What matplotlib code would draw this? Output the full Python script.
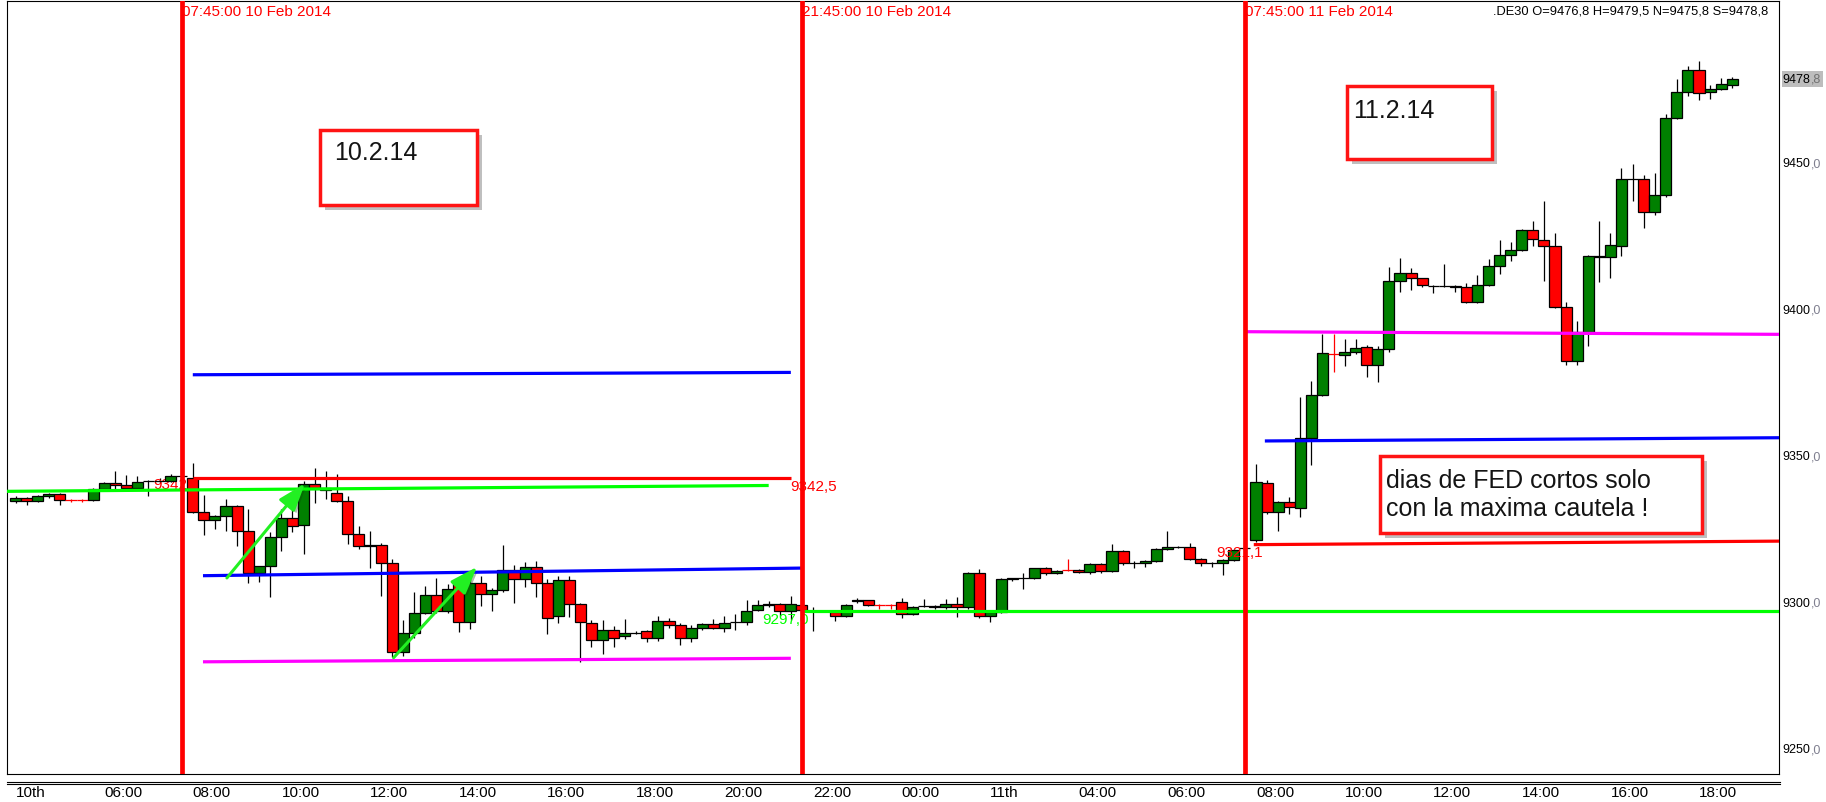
import numpy as np
import matplotlib
matplotlib.use('Agg')
import matplotlib.pyplot as plt
import matplotlib.patches as mpatches
import matplotlib.patheffects as pe
from matplotlib.lines import Line2D

W, H = 1826, 803
NARROW = ['Liberation Sans Narrow', 'Liberation Sans', 'DejaVu Sans']
ARIAL = ['Liberation Sans', 'DejaVu Sans']

# 15 min bars .DE30, time = hours from 00:00 10 Feb 2014
bar_t = [4.0, 4.25, 4.5, 4.75, 5.0, 5.25, 5.5, 5.75, 6.0, 6.25, 6.5, 6.75, 7.0, 7.25, 7.5, 7.75,
         8.0, 8.25, 8.5, 8.75, 9.0, 9.25, 9.5, 9.75, 10.0, 10.25, 10.5, 10.75, 11.0, 11.25, 11.5, 11.75,
         12.0, 12.25, 12.5, 12.75, 13.0, 13.25, 13.5, 13.75, 14.0, 14.25, 14.5, 14.75, 15.0, 15.25, 15.5, 15.75,
         16.0, 16.25, 16.5, 16.75, 17.0, 17.25, 17.5, 17.75, 18.0, 18.25, 18.5, 18.75, 19.0, 19.25, 19.5, 19.75,
         20.0, 20.25, 20.5, 20.75, 21.0, 21.25, 21.5, 21.75, 22.0, 22.5, 22.75, 23.0, 23.25, 23.5, 23.75,
         24.0, 24.25, 24.5, 24.75, 25.0, 25.25, 25.5, 25.75, 26.0, 26.25, 26.5, 26.75, 27.0, 27.25, 27.5, 27.75,
         28.0, 28.25, 28.5, 28.75, 29.0, 29.25, 29.5, 29.75, 30.0, 30.25, 30.5, 30.75, 31.0, 31.25, 31.5, 31.75,
         32.0, 32.25, 32.5, 32.75, 33.0, 33.25, 33.5, 33.75, 34.0, 34.25, 34.5, 34.75, 35.0, 35.25, 35.5, 35.75,
         36.0, 36.25, 36.5, 36.75, 37.0, 37.25, 37.5, 37.75, 38.0, 38.25, 38.5, 38.75, 39.0, 39.25, 39.5, 39.75,
         40.0, 40.25, 40.5, 40.75, 41.0, 41.25, 41.5, 41.75, 42.0, 42.25, 42.5, 42.75]
bar_o = [9334.7, 9335.8, 9334.7, 9336.4, 9337.1, 9335.0, 9335.0, 9335.0, 9338.8, 9341.0, 9340.1, 9339.3, 9341.6, 9341.6, 9341.4, 9343.3,
         9342.4, 9330.8, 9328.2, 9329.7, 9332.9, 9324.3, 9310.1, 9312.4, 9322.3, 9328.8, 9326.6, 9340.5, 9339.1, 9337.6, 9334.8, 9323.6,
         9319.2, 9319.7, 9313.4, 9283.0, 9289.8, 9296.4, 9302.7, 9297.0, 9306.6, 9293.3, 9306.6, 9302.9, 9304.4, 9311.2, 9308.0, 9312.3,
         9306.7, 9295.3, 9307.6, 9299.5, 9293.0, 9287.2, 9290.6, 9288.5, 9289.8, 9290.2, 9287.8, 9293.6, 9292.2, 9287.8, 9291.5, 9292.7,
         9291.5, 9293.5, 9293.5, 9297.6, 9299.2, 9299.4, 9297.0, 9299.2, 9297.0, 9296.9, 9295.3, 9300.4, 9300.8, 9299.1, 9299.1,
         9300.1, 9296.1, 9298.9, 9298.9, 9298.4, 9299.7, 9298.4, 9310.0, 9295.3, 9296.9, 9308.0, 9308.5, 9308.3, 9311.7, 9310.0, 9311.1,
         9311.1, 9310.3, 9313.2, 9310.9, 9317.6, 9313.7, 9313.7, 9314.1, 9318.2, 9319.1, 9319.1, 9314.9, 9313.5, 9313.5, 9314.5, 9318.5,
         9321.4, 9340.7, 9331.1, 9334.4, 9332.2, 9356.1, 9371.0, 9384.9, 9384.6, 9385.4, 9387.4, 9381.1, 9386.6, 9409.9, 9412.4, 9410.7,
         9408.2, 9408.2, 9408.2, 9407.6, 9402.5, 9408.5, 9415.0, 9418.8, 9420.3, 9427.3, 9423.9, 9421.8, 9400.8, 9382.6, 9392.3, 9418.4,
         9417.9, 9421.6, 9444.6, 9444.8, 9433.2, 9439.1, 9465.3, 9474.5, 9481.7, 9474.2, 9475.3, 9476.8]
bar_h = [9336.5, 9336.2, 9336.8, 9337.3, 9337.5, 9335.4, 9335.4, 9339.2, 9341.2, 9344.8, 9343.5, 9343.3, 9342.0, 9342.5, 9343.8, 9343.6,
         9347.6, 9336.8, 9330.0, 9335.4, 9333.3, 9331.9, 9312.6, 9324.0, 9331.9, 9334.2, 9341.6, 9345.9, 9344.8, 9343.9, 9336.5, 9326.0,
         9324.5, 9320.2, 9314.9, 9294.0, 9303.5, 9305.8, 9308.3, 9306.5, 9308.0, 9309.5, 9309.0, 9305.0, 9319.6, 9313.0, 9313.8, 9314.3,
         9308.0, 9309.2, 9309.0, 9300.0, 9294.0, 9294.0, 9292.0, 9294.4, 9290.3, 9290.7, 9295.5, 9294.8, 9293.2, 9292.5, 9293.0, 9294.4,
         9295.5, 9296.1, 9300.9, 9300.9, 9300.6, 9299.8, 9302.1, 9299.6, 9298.4, 9297.3, 9299.6, 9301.6, 9301.0, 9299.6, 9299.6,
         9301.6, 9298.8, 9301.2, 9299.2, 9301.2, 9301.8, 9310.3, 9311.5, 9297.1, 9308.3, 9308.5, 9310.0, 9311.9, 9312.0, 9311.2, 9314.9,
         9311.4, 9313.5, 9313.5, 9320.0, 9318.0, 9314.2, 9314.5, 9318.6, 9324.4, 9319.5, 9320.2, 9315.2, 9313.9, 9314.8, 9318.2, 9318.8,
         9347.3, 9341.8, 9334.8, 9335.9, 9370.1, 9375.8, 9391.7, 9391.7, 9390.0, 9390.0, 9387.8, 9387.7, 9414.5, 9417.5, 9414.4, 9411.0,
         9408.5, 9415.6, 9408.5, 9409.1, 9411.8, 9417.3, 9423.9, 9423.0, 9427.6, 9430.4, 9437.2, 9426.2, 9402.5, 9396.2, 9418.7, 9430.4,
         9426.2, 9448.4, 9449.7, 9446.0, 9446.7, 9466.8, 9478.7, 9483.3, 9485.0, 9476.6, 9479.0, 9479.5]
bar_l = [9334.0, 9333.4, 9334.2, 9335.8, 9333.4, 9334.3, 9334.3, 9334.8, 9338.5, 9338.8, 9339.0, 9339.0, 9336.5, 9340.8, 9341.2, 9343.0,
         9330.5, 9323.1, 9325.1, 9324.5, 9319.4, 9306.6, 9307.1, 9301.8, 9317.7, 9324.0, 9316.6, 9333.9, 9335.4, 9334.5, 9320.0, 9318.3,
         9311.7, 9302.4, 9281.3, 9281.9, 9288.0, 9296.0, 9296.5, 9296.5, 9290.0, 9291.0, 9299.0, 9297.0, 9303.5, 9300.0, 9305.5, 9302.0,
         9289.3, 9293.0, 9295.0, 9279.6, 9284.7, 9282.4, 9285.0, 9287.5, 9289.3, 9286.5, 9287.0, 9291.5, 9285.5, 9286.5, 9290.8, 9291.0,
         9290.0, 9290.7, 9292.5, 9297.0, 9298.5, 9295.5, 9294.0, 9296.5, 9290.4, 9293.8, 9295.0, 9300.0, 9299.0, 9297.8, 9297.8,
         9294.9, 9295.8, 9298.5, 9297.8, 9298.0, 9295.0, 9298.0, 9294.8, 9293.5, 9296.5, 9307.5, 9304.6, 9308.0, 9309.6, 9309.7, 9310.8,
         9310.0, 9309.8, 9310.1, 9310.5, 9312.8, 9311.9, 9312.0, 9313.8, 9318.0, 9318.7, 9314.6, 9312.4, 9312.0, 9309.4, 9314.2, 9318.2,
         9320.8, 9330.2, 9324.5, 9330.2, 9329.1, 9347.1, 9370.5, 9378.8, 9380.9, 9384.9, 9377.2, 9375.2, 9385.6, 9405.9, 9406.8, 9407.9,
         9405.7, 9407.9, 9405.9, 9402.2, 9402.2, 9408.0, 9412.2, 9416.7, 9420.0, 9421.8, 9409.7, 9400.5, 9381.2, 9381.2, 9387.7, 9409.6,
         9411.0, 9418.2, 9437.2, 9427.8, 9432.5, 9438.5, 9465.0, 9472.8, 9471.7, 9472.1, 9475.0, 9475.8]
bar_c = [9335.8, 9334.7, 9336.3, 9337.0, 9335.1, 9335.0, 9335.0, 9338.8, 9341.0, 9340.1, 9339.3, 9341.3, 9341.6, 9341.4, 9343.3, 9343.3,
         9330.8, 9328.2, 9329.7, 9332.9, 9324.3, 9310.1, 9312.4, 9322.3, 9328.8, 9326.0, 9340.5, 9339.1, 9338.5, 9334.8, 9323.6, 9319.2,
         9319.7, 9313.4, 9283.0, 9289.8, 9296.4, 9302.7, 9297.0, 9304.6, 9293.3, 9306.6, 9302.9, 9304.4, 9311.2, 9308.0, 9312.3, 9306.7,
         9294.6, 9307.6, 9299.5, 9293.3, 9287.2, 9290.6, 9288.1, 9289.5, 9289.8, 9287.8, 9293.6, 9292.5, 9287.8, 9291.5, 9292.7, 9291.5,
         9293.2, 9293.5, 9297.2, 9299.2, 9299.7, 9297.2, 9299.4, 9297.5, 9297.0, 9295.3, 9299.2, 9300.9, 9299.2, 9299.1, 9299.1,
         9296.1, 9298.6, 9298.9, 9298.4, 9299.7, 9298.4, 9310.0, 9295.3, 9296.9, 9308.0, 9308.3, 9308.5, 9311.7, 9310.0, 9310.9, 9311.1,
         9310.3, 9313.2, 9310.9, 9317.6, 9313.7, 9313.7, 9314.1, 9318.2, 9319.1, 9319.1, 9314.9, 9313.5, 9313.5, 9314.5, 9317.9, 9318.5,
         9341.3, 9331.1, 9334.4, 9332.5, 9356.1, 9371.0, 9385.1, 9384.9, 9385.4, 9387.1, 9381.1, 9386.6, 9409.9, 9412.4, 9410.7, 9408.4,
         9408.2, 9408.2, 9407.6, 9402.5, 9408.5, 9415.0, 9418.8, 9420.3, 9427.3, 9424.1, 9421.8, 9400.8, 9382.6, 9392.3, 9418.4, 9417.9,
         9422.2, 9444.6, 9444.8, 9433.2, 9439.1, 9465.3, 9474.5, 9481.7, 9473.9, 9475.3, 9476.9, 9478.8]
cross_t = [5.25, 5.5, 23.5, 23.75, 27.75, 33.75]   # red "+" bars

tick_hours = list(range(4, 43, 2))
tick_names = ['10th', '06:00', '08:00', '10:00', '12:00', '14:00', '16:00', '18:00', '20:00', '22:00',
              '00:00', '11th', '04:00', '06:00', '08:00', '10:00', '12:00', '14:00', '16:00', '18:00']
price_ticks = [9250, 9300, 9350, 9400, 9450]
last_price = 9478.8

session_t = [7.75, 21.75, 31.75]
session_names = ['07:45:00 10 Feb 2014', '21:45:00 10 Feb 2014', '07:45:00 11 Feb 2014']

# drawn levels: start, end, price start, price end, colour
lvl_t0 = [8.0, 8.0, 3.8, 8.23, 8.23, 21.75, 31.75, 32.2, 31.95]
lvl_t1 = [21.5, 21.5, 21.0, 21.75, 21.5, 43.81, 43.81, 43.81, 43.81]
lvl_p0 = [9377.8, 9342.5, 9338.0, 9309.2, 9279.8, 9297.0, 9392.5, 9355.2, 9319.8]
lvl_p1 = [9378.6, 9342.5, 9340.0, 9311.8, 9281.0, 9297.0, 9391.6, 9356.3, 9321.0]
lvl_col = ['#0000ff', '#ff0000', '#00ff00', '#0000ff', '#ff00ff', '#00ff00', '#ff00ff', '#0000ff', '#ff0000']

# green arrows drawn on the chart
arrow_from = [(8.73, 9307.7), (12.49, 9280.5)]
arrow_to = [(10.57, 9341.4), (14.46, 9312.9)]


fig = plt.figure(figsize=(W / 100, H / 100), dpi=100)
fig.patch.set_facecolor('white')
ax = fig.add_axes([7 / W, (H - 775) / H, 1772 / W, 773 / H])
ax.set_xlim(3.806, 43.806)
ax.set_ylim(9241.5, 9505.4)
for s in ax.spines.values():
    s.set_linewidth(0.8)
    s.set_color('black')

# candles
t = np.array(bar_t)
o = np.array(bar_o)
hi = np.array(bar_h)
lo = np.array(bar_l)
c = np.array(bar_c)
is_cross = np.isin(t, cross_t)
wick_col = np.where(is_cross, '#ff0000', 'black')
body_col = np.where(c > o, '#008000', np.where(c < o, '#ff0000', 'black'))
edge_col = np.where(is_cross, '#ff0000', 'black')
ax.vlines(t, lo, hi, colors=wick_col, lw=0.9, zorder=2)
ax.bar(t, c - o, bottom=o, width=0.25, color=body_col, edgecolor=edge_col, lw=0.9, zorder=3)

# levels
for a, b, p0, p1, col in zip(lvl_t0, lvl_t1, lvl_p0, lvl_p1, lvl_col):
    ax.plot([a, b], [p0, p1], color=col, lw=2.3, solid_capstyle='butt', zorder=4)

ax.text(7.10, 9340.5, '9342,5', color='#ff0000', fontsize=11, family=NARROW, va='center', zorder=2.5)
ax.text(21.49, 9339.9, '9342,5', color='#ff0000', fontsize=11, family=NARROW, va='center', zorder=5)
ax.text(20.85, 9294.4, '9297,0', color='#00ff00', fontsize=11, family=NARROW, va='center', zorder=5)
ax.text(31.10, 9317.4, '9321,1', color='#ff0000', fontsize=11, family=NARROW, va='center', zorder=5)

# arrows
for p_from, p_to in zip(arrow_from, arrow_to):
    arr = mpatches.FancyArrowPatch(p_from, p_to, arrowstyle='-|>,head_length=1.4,head_width=0.5',
                                   mutation_scale=12, color='#22f022', lw=2.2, zorder=5,
                                   path_effects=[pe.SimplePatchShadow(offset=(2, -2), alpha=0.35), pe.Normal()])
    ax.add_patch(arr)

# session lines and labels
top_tr = ax.get_xaxis_transform()
for st, name in zip(session_t, session_names):
    ax.axvline(st, color='#ff0000', lw=3.4, zorder=6)
    ax.text(st + 0.01, 1 - 10 / 773, name, transform=top_tr, color='#ff0000', fontsize=11,
            family=NARROW, ha='left', va='center', zorder=5.5)

ax.text((1768 - 7) / 1772, 1 - 10 / 773, '.DE30 O=9476,8 H=9479,5 N=9475,8 S=9478,8',
        transform=ax.transAxes, fontsize=9.3, family=ARIAL, ha='right', va='center', zorder=7)

# x axis labels
ax.set_xticks(tick_hours, tick_names)
ax.tick_params(axis='x', length=0, pad=8)
for lab in ax.get_xticklabels():
    lab.set_horizontalalignment('left')
    lab.set_fontfamily(NARROW)
    lab.set_fontsize(11)

# price labels on the right
ax.set_yticks([])
yl_tr = ax.get_yaxis_transform()
for v in price_ticks:
    ax.annotate(f'{v}', xy=(1, v), xycoords=yl_tr, xytext=(3.5, 0), textcoords='offset pixels',
                fontsize=9, family=ARIAL, va='center', ha='left', annotation_clip=False)
    ax.annotate(',0', xy=(1, v), xycoords=yl_tr, xytext=(31.5, 0), textcoords='offset pixels',
                fontsize=9, family=ARIAL, color='#7f7f8f', va='center', ha='left', annotation_clip=False)
ax.add_patch(mpatches.Rectangle((1.0015, last_price - 2.7), 0.0235, 5.4, transform=yl_tr,
                                facecolor='#bdbdbd', edgecolor='none', clip_on=False, zorder=1))
lp_int, lp_dec = f'{last_price:.1f}'.split('.')
ax.annotate(lp_int, xy=(1, last_price), xycoords=yl_tr, xytext=(3.5, 0), textcoords='offset pixels',
            fontsize=9, family=ARIAL, va='center', ha='left', annotation_clip=False, zorder=2)
ax.annotate(',' + lp_dec, xy=(1, last_price), xycoords=yl_tr, xytext=(31.5, 0), textcoords='offset pixels',
            fontsize=9, family=ARIAL, color='#707070', va='center', ha='left', annotation_clip=False, zorder=2)

# double line under the chart
for yy in (782.6, 785.2):
    fig.add_artist(Line2D([7 / W, 1780 / W], [1 - yy / H, 1 - yy / H], transform=fig.transFigure,
                          color='black', lw=0.8))


# note boxes (pixel coords from top-left)
def note(x0, y0, x1, y1, lines, tx, ty, gap=28):
    sh = mpatches.Rectangle(((x0 + 4) / W, 1 - (y1 + 4) / H), (x1 - x0) / W, (y1 - y0) / H,
                            transform=fig.transFigure, facecolor='#9a9a9a', edgecolor='none', alpha=0.55,
                            path_effects=[pe.SimplePatchShadow(offset=(1, -1), alpha=0.3)])
    fig.add_artist(sh)
    box = mpatches.Rectangle((x0 / W, 1 - y1 / H), (x1 - x0) / W, (y1 - y0) / H, transform=fig.transFigure,
                             facecolor='white', edgecolor='#ff1414', lw=2.5)
    fig.add_artist(box)
    for i, s in enumerate(lines):
        fig.text(tx / W, 1 - (ty + i * gap) / H, s, fontsize=18, family=ARIAL, color='#141414',
                 ha='left', va='center')


note(320, 131, 477, 206, ['10.2.14'], 334, 153)
note(1347, 87, 1492, 160, ['11.2.14'], 1353, 111)
note(1380, 457, 1702, 534, ['dias de FED cortos solo', 'con la maxima cautela !'], 1386, 481)

fig.savefig('out.png', dpi=100)
